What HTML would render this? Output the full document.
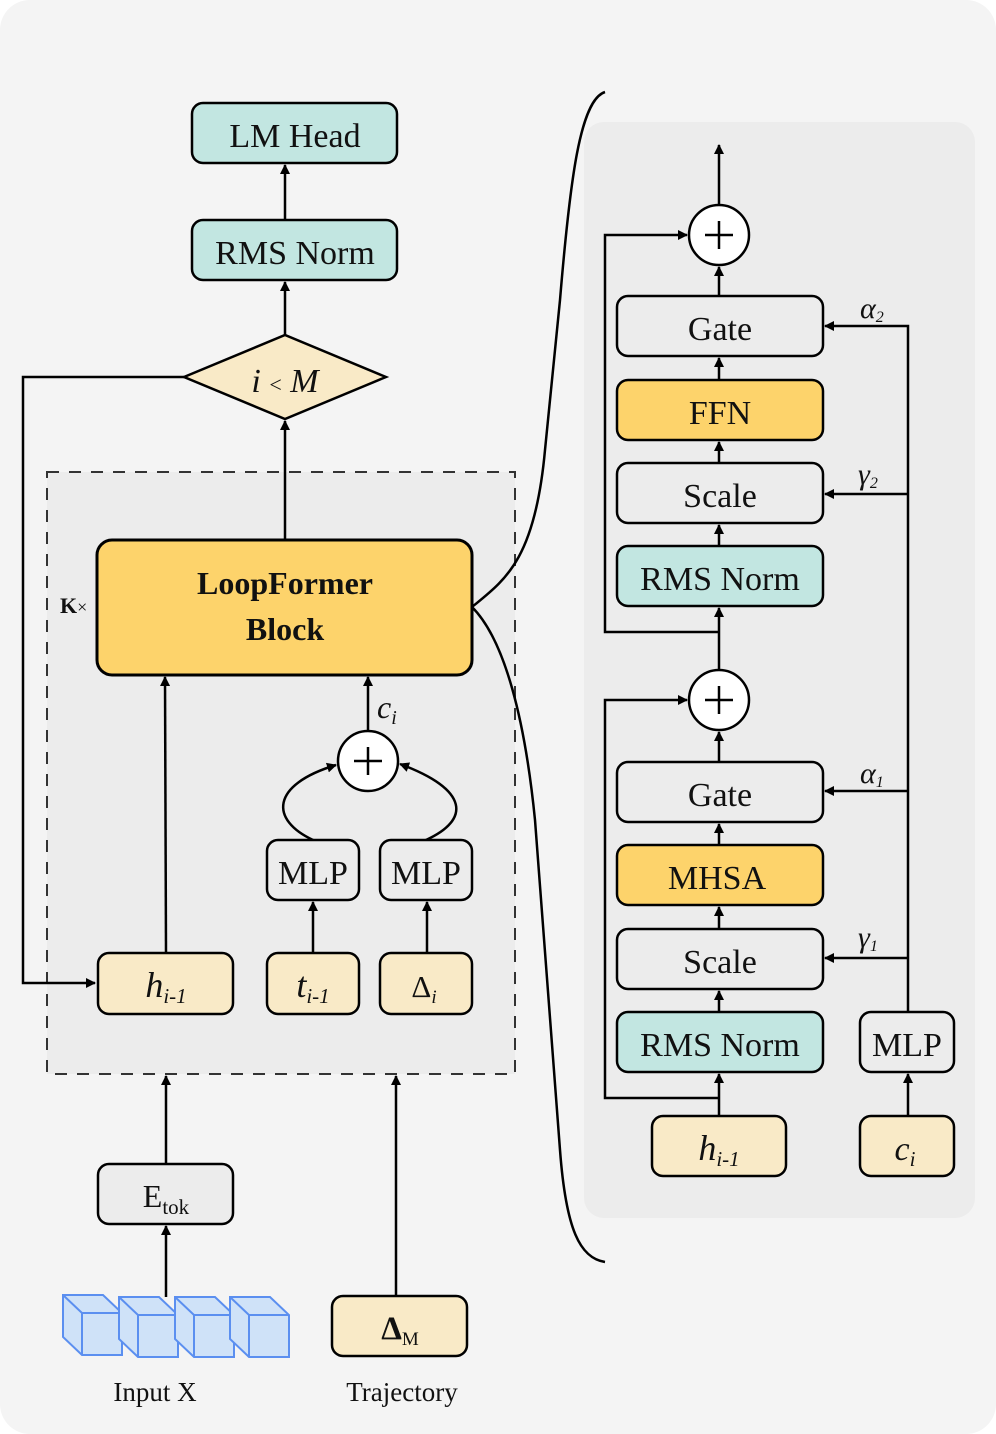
<!DOCTYPE html>
<html><head><meta charset="utf-8"><style>
html,body{margin:0;padding:0;background:#fff;}
svg{display:block;}
text{font-family:"Liberation Serif",serif;fill:#111;}
</style></head><body>
<svg width="996" height="1434" viewBox="0 0 996 1434" xmlns="http://www.w3.org/2000/svg">
<defs>
<marker id="a" markerWidth="10" markerHeight="10" refX="9" refY="5" orient="auto" markerUnits="userSpaceOnUse"><path d="M0,0 L10,5 L0,10 z" fill="#000"/></marker>
</defs>
<rect x="0" y="0" width="996" height="1434" rx="30" fill="#f4f4f4"/>
<rect x="47" y="472" width="468" height="602" fill="#ececec" stroke="#333" stroke-width="2" stroke-dasharray="12,10"/>
<rect x="584" y="122" width="391" height="1096" rx="20" fill="#ececec"/>
<g stroke="#000" stroke-width="2.5" fill="none">
<path d="M605,92 C580,100 570,180 560,300 L545,450 C535,560 505,580 472,607"/>
<path d="M472,607 C505,640 525,720 535,820 L560,1150 C566,1230 580,1258 605,1262"/>
</g>
<g stroke="#000" stroke-width="2.5" fill="none">
<line x1="285" y1="220" x2="285" y2="165" marker-end="url(#a)"/>
<line x1="285" y1="335" x2="285" y2="282" marker-end="url(#a)"/>
<line x1="285" y1="540" x2="285" y2="421" marker-end="url(#a)"/>
<polyline points="184,377 23,377 23,983 95,983" marker-end="url(#a)"/>
<line x1="166" y1="953" x2="165" y2="677" marker-end="url(#a)"/>
<line x1="368" y1="731" x2="368" y2="677" marker-end="url(#a)"/>
<line x1="313" y1="953" x2="313" y2="902" marker-end="url(#a)"/>
<line x1="427" y1="953" x2="427" y2="902" marker-end="url(#a)"/>
<path d="M313,840 C270,820 270,785 336,765" marker-end="url(#a)"/>
<path d="M426,840 C470,820 470,790 400,764" marker-end="url(#a)"/>
<line x1="166" y1="1164" x2="166" y2="1076" marker-end="url(#a)"/>
<line x1="166" y1="1297" x2="166" y2="1226" marker-end="url(#a)"/>
<line x1="396" y1="1296" x2="396" y2="1076" marker-end="url(#a)"/>
<line x1="719" y1="205" x2="719" y2="145" marker-end="url(#a)"/>
<line x1="719" y1="296" x2="719" y2="267" marker-end="url(#a)"/>
<line x1="719" y1="380" x2="719" y2="358" marker-end="url(#a)"/>
<line x1="719" y1="463" x2="719" y2="442" marker-end="url(#a)"/>
<line x1="719" y1="546" x2="719" y2="525" marker-end="url(#a)"/>
<line x1="719" y1="670" x2="719" y2="608" marker-end="url(#a)"/>
<polyline points="719,632 605,632 605,235 687,235" marker-end="url(#a)"/>
<line x1="719" y1="762" x2="719" y2="732" marker-end="url(#a)"/>
<line x1="719" y1="845" x2="719" y2="824" marker-end="url(#a)"/>
<line x1="719" y1="929" x2="719" y2="907" marker-end="url(#a)"/>
<line x1="719" y1="1012" x2="719" y2="991" marker-end="url(#a)"/>
<line x1="719" y1="1116" x2="719" y2="1074" marker-end="url(#a)"/>
<polyline points="719,1098 605,1098 605,700 687,700" marker-end="url(#a)"/>
<line x1="908" y1="1116" x2="908" y2="1074" marker-end="url(#a)"/>
<polyline points="908,1012 908,326 825,326" marker-end="url(#a)"/>
<line x1="908" y1="494" x2="825" y2="494" marker-end="url(#a)"/>
<line x1="908" y1="791" x2="825" y2="791" marker-end="url(#a)"/>
<line x1="908" y1="958" x2="825" y2="958" marker-end="url(#a)"/>
</g>
<g stroke="#000" stroke-width="2.5">
<rect x="192" y="103" width="205" height="60" rx="11" fill="#c2e6e1"/>
<rect x="192" y="220" width="205" height="60" rx="11" fill="#c2e6e1"/>
<polygon points="184,377 285,335 386,377 285,419" fill="#f9eac7"/>
<rect x="97" y="540" width="375" height="135" rx="15" fill="#fdd36b" stroke-width="3"/>
<rect x="98" y="953" width="135" height="61" rx="11" fill="#f9eac7"/>
<rect x="267" y="953" width="92" height="61" rx="11" fill="#f9eac7"/>
<rect x="380" y="953" width="92" height="61" rx="11" fill="#f9eac7"/>
<rect x="267" y="840" width="92" height="60" rx="11" fill="#ececec"/>
<rect x="380" y="840" width="92" height="60" rx="11" fill="#ececec"/>
<circle cx="368" cy="761" r="30" fill="#fff"/>
<rect x="98" y="1164" width="135" height="60" rx="11" fill="#ececec"/>
<rect x="332" y="1296" width="135" height="60" rx="11" fill="#f9eac7"/>
<circle cx="719" cy="235" r="30" fill="#fff"/>
<rect x="617" y="296" width="206" height="60" rx="11" fill="#ececec"/>
<rect x="617" y="380" width="206" height="60" rx="11" fill="#fdd36b"/>
<rect x="617" y="463" width="206" height="60" rx="11" fill="#ececec"/>
<rect x="617" y="546" width="206" height="60" rx="11" fill="#c2e6e1"/>
<circle cx="719" cy="700" r="30" fill="#fff"/>
<rect x="617" y="762" width="206" height="60" rx="11" fill="#ececec"/>
<rect x="617" y="845" width="206" height="60" rx="11" fill="#fdd36b"/>
<rect x="617" y="929" width="206" height="60" rx="11" fill="#ececec"/>
<rect x="617" y="1012" width="206" height="60" rx="11" fill="#c2e6e1"/>
<rect x="652" y="1116" width="134" height="60" rx="11" fill="#f9eac7"/>
<rect x="860" y="1012" width="94" height="60" rx="11" fill="#ececec"/>
<rect x="860" y="1116" width="94" height="60" rx="11" fill="#f9eac7"/>
</g>
<g stroke="#000" stroke-width="2.5">
<line x1="354" y1="761" x2="382" y2="761"/><line x1="368" y1="747" x2="368" y2="775"/>
<line x1="705" y1="235" x2="733" y2="235"/><line x1="719" y1="221" x2="719" y2="249"/>
<line x1="705" y1="700" x2="733" y2="700"/><line x1="719" y1="686" x2="719" y2="714"/>
</g>
<g fill="#cfe2f8" stroke="#5b8ff0" stroke-width="2">
<g transform="translate(63,1295)"><polygon points="0,0 40,0 59,18 59,60 19,60 0,42"/><polyline points="0,0 19,18 59,18" fill="none"/><line x1="19" y1="18" x2="19" y2="60"/></g>
<g transform="translate(119,1297)"><polygon points="0,0 40,0 59,18 59,60 19,60 0,42"/><polyline points="0,0 19,18 59,18" fill="none"/><line x1="19" y1="18" x2="19" y2="60"/></g>
<g transform="translate(175,1297)"><polygon points="0,0 40,0 59,18 59,60 19,60 0,42"/><polyline points="0,0 19,18 59,18" fill="none"/><line x1="19" y1="18" x2="19" y2="60"/></g>
<g transform="translate(230,1297)"><polygon points="0,0 40,0 59,18 59,60 19,60 0,42"/><polyline points="0,0 19,18 59,18" fill="none"/><line x1="19" y1="18" x2="19" y2="60"/></g>
</g>
<g font-size="34" text-anchor="middle">
<text x="295" y="147">LM Head</text>
<text x="295" y="264">RMS Norm</text>
<text x="285" y="392" font-style="italic">i <tspan font-size="22" font-style="normal">&lt;</tspan> M</text>
<text x="285" y="594" font-weight="bold" font-size="32">LoopFormer</text>
<text x="285" y="640" font-weight="bold" font-size="32">Block</text>
<text x="166" y="997" font-style="italic" font-size="36">h<tspan font-size="21" dy="6">i-1</tspan></text>
<text x="313" y="997" font-style="italic" font-size="36">t<tspan font-size="21" dy="6">i-1</tspan></text>
<text x="424" y="997" font-family="Liberation Sans" font-size="31">Δ<tspan font-size="19" dy="6" font-style="italic" font-family="Liberation Serif">i</tspan></text>
<text x="313" y="884">MLP</text>
<text x="426" y="884">MLP</text>
<text x="166" y="1207" font-size="32">E<tspan font-size="21" dy="7">tok</tspan></text>
<text x="400" y="1339" font-family="Liberation Sans" font-weight="bold" font-size="33">Δ<tspan font-size="19" dy="6" font-weight="normal" font-family="Liberation Serif">M</tspan></text>
<text x="155" y="1401" font-size="27">Input X</text>
<text x="402" y="1401" font-size="27">Trajectory</text>
<text x="720" y="340">Gate</text>
<text x="720" y="424">FFN</text>
<text x="720" y="507">Scale</text>
<text x="720" y="590">RMS Norm</text>
<text x="720" y="806">Gate</text>
<text x="717" y="889">MHSA</text>
<text x="720" y="973">Scale</text>
<text x="720" y="1056">RMS Norm</text>
<text x="719" y="1160" font-style="italic" font-size="36">h<tspan font-size="21" dy="6">i-1</tspan></text>
<text x="907" y="1056">MLP</text>
<text x="905" y="1160" font-style="italic" font-size="34">c<tspan font-size="21" dy="6">i</tspan></text>
</g>
<text x="60" y="613" font-size="22" font-weight="bold">K<tspan font-weight="normal" font-size="18">×</tspan></text>
<text x="377" y="718" font-style="italic" font-size="32">c<tspan font-size="20" dy="6">i</tspan></text>
<g font-family="Liberation Sans" font-style="italic" font-size="30">
<text x="860" y="318">α<tspan font-size="16" dy="4">2</tspan></text>
<text x="858" y="484">γ<tspan font-size="16" dy="4">2</tspan></text>
<text x="860" y="783">α<tspan font-size="16" dy="4">1</tspan></text>
<text x="858" y="947">γ<tspan font-size="16" dy="4">1</tspan></text>
</g>
</svg>
</body></html>
